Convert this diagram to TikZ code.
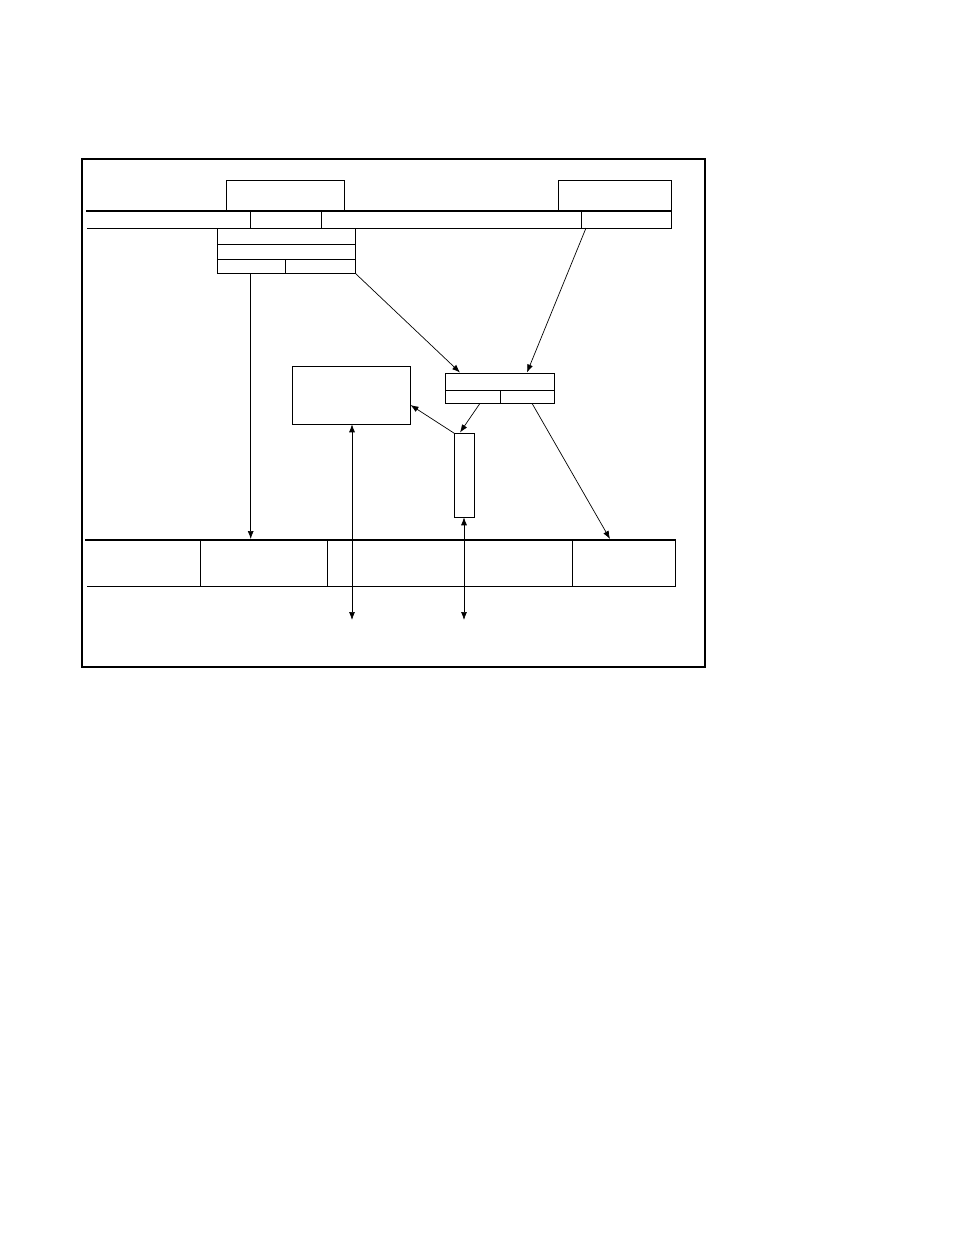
\documentclass[tikz,border=0pt]{standalone}
\usetikzlibrary{arrows.meta,calc}
\begin{document}
\begin{tikzpicture}[x=1pt,y=-1pt,
  box/.style={draw,line width=1pt,inner sep=0pt,outer sep=0pt},
  bar/.style={line width=2.8pt},
  rule/.style={line width=1pt},
  conn/.style={line width=0.7pt,-{Latex[length=8pt,width=6pt]}},
  dconn/.style={line width=0.7pt,{Latex[length=8pt,width=6pt]}-{Latex[length=8pt,width=6pt]}}]
\useasboundingbox (0,0) rectangle (954,1235);
% frame
\draw[line width=1.5pt] (82,159) rectangle (705,667);
% top bar
\draw[bar] (86,211) -- (671.5,211);
\draw[rule] (87,228) -- (671,228) -- (671,211);
\foreach \x in {250.7,321.7,581.7} \draw[rule] (\x,211) -- (\x,228);
\node[box,minimum width=117.6pt,minimum height=31pt] (tl) at (285.5,195.5) {};
\node[box,minimum width=112.7pt,minimum height=31pt] (tr) at (614.65,195.5) {};
% stack under top bar
\node[box,minimum width=138pt,minimum height=45.3pt] (st) at (286.3,250.65) {};
\draw[rule] (217.3,244) -- (355.3,244);
\draw[rule] (217.3,259.3) -- (355.3,259.3);
\draw[rule] (285.7,259.3) -- (285.7,273.3);
% middle box
\node[box,minimum width=108.6pt,minimum height=30pt] (mb) at (500,388.3) {};
\draw[rule] (445.7,390) -- (554.3,390);
\draw[rule] (500.3,390) -- (500.3,403.3);
% left box
\node[box,minimum width=118pt,minimum height=57.6pt] (lb) at (351.3,395.5) {};
% tall box
\node[box,minimum width=20pt,minimum height=84pt] (tb) at (464.3,475.3) {};
% bottom bar
\draw[bar] (85,540) -- (676,540);
\draw[rule] (87,586) -- (675.7,586) -- (675.7,540);
\foreach \x in {200.3,327.3,572.3} \draw[rule] (\x,540) -- (\x,586);
% connector endpoints
\coordinate (s1) at (250.7,273.3);
\coordinate (e1) at (250.7,539);
\coordinate (e2) at (460,372.5);
\coordinate (s3) at (586,228);
\coordinate (e3) at (527,372.5);
\coordinate (s4) at (480,403.3);
\coordinate (e4) at (460,432.5);
\coordinate (e5) at (410.5,405);
\coordinate (s6) at (532,403.3);
\coordinate (e6) at (610,539);
\coordinate (s7) at (352,424.3);
\coordinate (e7) at (352,620);
\coordinate (s8) at (464,517.3);
\coordinate (e8) at (464,620);
% connectors
\draw[conn] (s1) -- (e1);
\draw[conn] (st.south east) -- (e2);
\draw[conn] (s3) -- (e3);
\draw[conn] (s4) -- (e4);
\draw[conn] (tb.north west) -- (e5);
\draw[conn] (s6) -- (e6);
\draw[dconn] (s7) -- (e7);
\draw[dconn] (s8) -- (e8);
\end{tikzpicture}
\end{document}
